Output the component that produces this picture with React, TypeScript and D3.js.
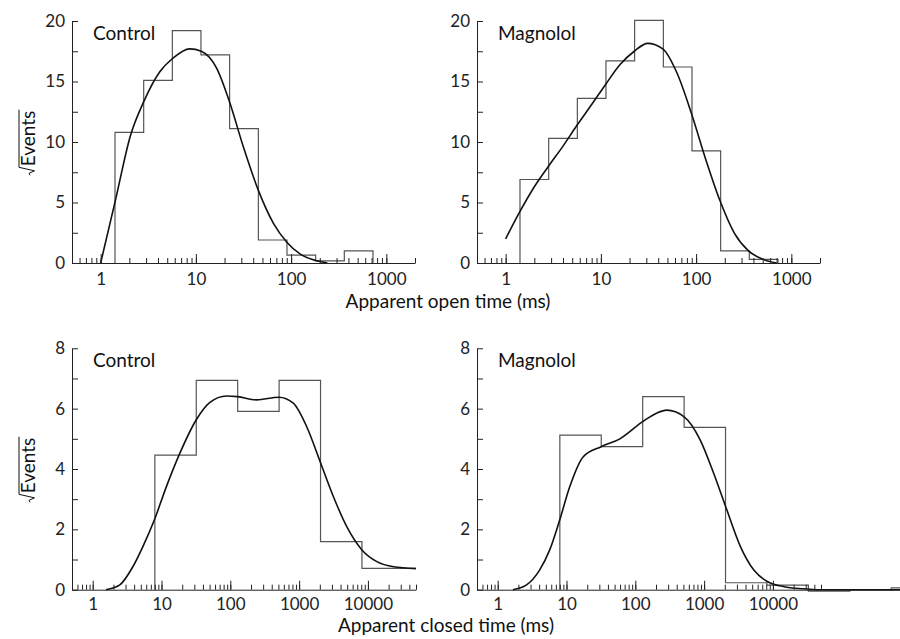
import React, { useRef, useEffect } from "react";
import * as d3 from "d3";

// histogram bin edges (ms): open times double, closed times x4
const openEdges = [1.414, 2.83, 5.66, 11.3, 22.6, 45.3, 90.5, 181, 362, 724];
const openControl = [10.8, 15.1, 19.2, 17.2, 11.1, 1.9, 0.65, 0.18, 1.0];
const openMagnolol = [6.9, 10.3, 13.6, 16.7, 20.05, 16.2, 9.26, 1.0, 0.3];

const closedEdges = [8, 32, 128, 512, 2048, 8192, 32768, 131072, 524288, 2097152];
const closedControl = [4.46, 6.94, 5.91, 6.94, 1.59, 0.71, 0.71, 0.71, 0.71];
const closedMagnolol = [5.12, 4.74, 6.4, 5.38, 0.23, 0.15, -0.05, 0, 0.06];

// fitted density curves, [time ms, sqrt events]
const openControlFit = [
  [1, 0], [1.43, 5.2], [2.05, 10.5], [2.86, 13.4], [4.18, 15.8], [5.69, 16.9],
  [8.6, 17.7], [11.4, 17.5], [16.5, 16.1], [22.8, 13.2], [31.5, 9.6], [45.3, 6.0],
  [65, 3.3], [90.7, 1.7], [124, 0.75], [182, 0.2], [240, 0],
];
const openMagnololFit = [
  [1, 2.0], [1.4, 4.2], [2, 6.3], [2.82, 8.0], [3.95, 9.6], [5.63, 11.4],
  [8.17, 13.2], [11.3, 14.8], [15.9, 16.4], [22.4, 17.5], [31, 18.15], [44.7, 17.7],
  [63, 15.7], [89, 12.4], [127, 8.5], [177, 5.2], [253, 2.45], [355, 1.0],
  [504, 0.3], [700, 0],
];
const closedControlFit = [
  [1.56, 0], [2.45, 0.15], [3.83, 0.76], [5.36, 1.43], [7.84, 2.3], [11.7, 3.4],
  [18.3, 4.5], [31.4, 5.6], [50, 6.2], [88, 6.42], [127, 6.4], [241, 6.29],
  [509, 6.38], [823, 6.18], [1290, 5.4], [2061, 4.19], [3154, 3.08], [4930, 2.09],
  [8250, 1.31], [13500, 0.93], [23600, 0.76], [50000, 0.7],
];
const closedMagnololFit = [
  [1.66, 0], [2.59, 0.15], [4.06, 0.65], [5.68, 1.31], [7.94, 2.3], [11.1, 3.4],
  [17.4, 4.4], [31.9, 4.74], [59.7, 5.0], [128, 5.57], [204, 5.85], [286, 5.95],
  [513, 5.73], [879, 4.96], [1376, 3.86], [2061, 2.75], [3372, 1.43], [5280, 0.65],
  [8260, 0.27], [14500, 0.1], [28000, 0.03], [44400, 0], [2000000, 0],
];

const openMajor = [1, 10, 100, 1000];
const closedMajor = [1, 10, 100, 1000, 10000];
const openYTicks = [0, 5, 10, 15, 20];
const closedYTicks = [0, 2, 4, 6, 8];

const FONT = "Lato, 'Open Sans', sans-serif";

function minorTicks(lo: number, hi: number) {
  const out: number[] = [];
  for (let e = -1; e <= 6; e++) {
    for (let k = 1; k <= 9; k++) {
      const v = k * Math.pow(10, e);
      if (v >= lo - 1e-9 && v <= hi + 1e-9) out.push(v);
    }
  }
  return out;
}

function drawPanel(svg: any, p: any) {
  const x = d3.scaleLog().domain(p.xDomain).range([p.left, p.right]).clamp(true);
  const y = d3.scaleLinear().domain([0, p.yTicks[p.yTicks.length - 1]]).range([p.bottom, p.top]);
  const g = svg.append("g");

  // histogram outline
  const pts: [number, number][] = [[p.edges[0], 0]];
  p.heights.forEach((h: number, i: number) => pts.push([p.edges[i], h]));
  const last = p.heights[p.heights.length - 1];
  pts.push([p.edges[p.heights.length], last]);
  if (p.closeEnd) pts.push([p.edges[p.heights.length], 0]);
  g.append("path")
    .attr("d", d3.line<[number, number]>().x((d) => x(d[0])).y((d) => y(d[1])).curve(d3.curveStepAfter)(pts))
    .attr("fill", "none")
    .attr("stroke", "#555")
    .attr("stroke-width", 1.2);

  // fitted curve
  g.append("path")
    .attr("d", d3.line<number[]>().x((d) => x(d[0])).y((d) => y(d[1])).curve(d3.curveMonotoneX)(p.fit))
    .attr("fill", "none")
    .attr("stroke", "#111")
    .attr("stroke-width", 1.6);

  // x axis: minor ticks then majors with labels
  const xMinor = minorTicks(p.xDomain[0], p.tickMax);
  g.append("g")
    .attr("transform", `translate(0,${y(0)})`)
    .attr("color", "#222")
    .call(d3.axisBottom(x).tickValues(xMinor).tickSize(-5).tickSizeOuter(0).tickFormat(() => ""));
  const xa = g.append("g")
    .attr("transform", `translate(0,${y(0)})`)
    .attr("color", "#222")
    .call(d3.axisBottom(x).tickValues(p.xMajor).tickSize(-9).tickSizeOuter(0).tickPadding(p.xPad).tickFormat(d3.format("d")));
  xa.select(".domain").remove();
  xa.selectAll("text").attr("font-family", FONT).attr("font-size", 17).attr("fill", "#222");

  // y axis
  const yStep = p.yTicks[1] - p.yTicks[0];
  const yMinor = p.yTicks.slice(0, -1).map((v: number) => v + yStep / 2);
  g.append("g")
    .attr("transform", `translate(${p.left},0)`)
    .attr("color", "#222")
    .call(d3.axisLeft(y).tickValues(yMinor).tickSize(-6).tickSizeOuter(0).tickFormat(() => ""));
  const ya = g.append("g")
    .attr("transform", `translate(${p.left},0)`)
    .attr("color", "#222")
    .call(d3.axisLeft(y).tickValues(p.yTicks).tickSize(-6).tickSizeOuter(0).tickPadding(7));
  ya.select(".domain").remove();
  ya.selectAll("text").attr("font-family", FONT).attr("font-size", 17).attr("fill", "#222");

  g.append("text")
    .attr("x", p.left + 21)
    .attr("y", p.top + 19)
    .attr("font-family", FONT)
    .attr("font-size", 19)
    .attr("fill", "#111")
    .text(p.label);
}

export default function App() {
  const svgRef = useRef<SVGSVGElement>(null);
  const width = 900;
  const height = 639;

  useEffect(() => {
    const svg = d3.select(svgRef.current);
    svg.selectAll("*").remove();

    const top = { top: 21, bottom: 263, xDomain: [0.5, 2000], tickMax: 2000, xMajor: openMajor, yTicks: openYTicks, edges: openEdges, xPad: 10, closeEnd: true };
    const bot = { top: 348.3, bottom: 589.7, xMajor: closedMajor, yTicks: closedYTicks, edges: closedEdges, xPad: 8, tickMax: 50000 };

    drawPanel(svg, { ...top, left: 72, right: 415, heights: openControl, fit: openControlFit, label: "Control" });
    drawPanel(svg, { ...top, left: 477, right: 820, heights: openMagnolol, fit: openMagnololFit, label: "Magnolol" });
    drawPanel(svg, { ...bot, left: 72, right: 416, xDomain: [0.5, 50000], heights: closedControl, fit: closedControlFit, label: "Control", closeEnd: false });
    drawPanel(svg, { ...bot, left: 477, right: 477 + (344 * Math.log10(4e6)) / 5, xDomain: [0.5, 2e6], heights: closedMagnolol, fit: closedMagnololFit, label: "Magnolol", closeEnd: false });

    // axis titles
    const titles = [
      { x: 448, y: 308, t: "Apparent open time (ms)" },
      { x: 446, y: 632, t: "Apparent closed time (ms)" },
    ];
    titles.forEach((d) => {
      svg.append("text")
        .attr("x", d.x)
        .attr("y", d.y)
        .attr("text-anchor", "middle")
        .attr("font-family", FONT)
        .attr("font-size", 19)
        .attr("fill", "#111")
        .text(d.t);
    });

    // sqrt(Events) labels: radical + overline drawn as a path next to the text
    [143, 470].forEach((cy) => {
      const lg = svg.append("g").attr("transform", `translate(35,${cy}) rotate(-90)`);
      const t = lg.append("text")
        .attr("x", 0)
        .attr("y", 0)
        .attr("font-family", FONT)
        .attr("font-size", 19)
        .attr("fill", "#111")
        .text("Events");
      const w = (t.node() as SVGTextElement).getComputedTextLength();
      const r = 9; // radical width
      const x0 = -(w + r) / 2;
      t.attr("x", x0 + r);
      lg.append("path")
        .attr("d", `M${x0},-5 L${x0 + 2},-6 L${x0 + 4.5},-0.5 L${x0 + 8},-16 H${x0 + r + w + 1}`)
        .attr("fill", "none")
        .attr("stroke", "#111")
        .attr("stroke-width", 1);
    });
  }, []);

  return (
    <svg
      ref={svgRef}
      width={width}
      height={height}
      viewBox={`0 0 ${width} ${height}`}
      style={{ position: "absolute", left: 0, top: 0, background: "#fff" }}
    />
  );
}
